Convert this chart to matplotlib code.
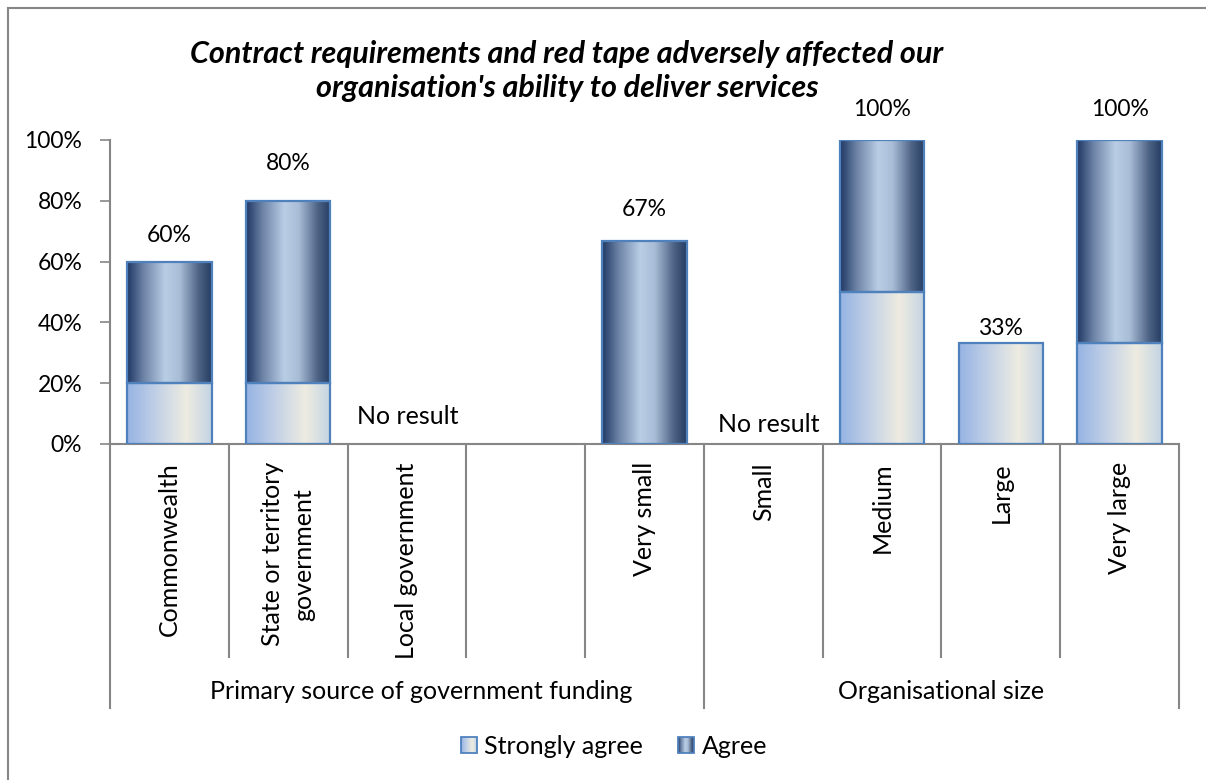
import numpy as np
import matplotlib
matplotlib.use('Agg')
import matplotlib.pyplot as plt
from matplotlib.colors import LinearSegmentedColormap
from matplotlib.patches import Rectangle
from matplotlib.lines import Line2D
from matplotlib.legend_handler import HandlerBase
from matplotlib.image import BboxImage
from matplotlib.transforms import Bbox, TransformedBbox

plt.rcParams['font.family'] = ['Lato', 'DejaVu Sans']

# ---------------- data ----------------
categories = ['Commonwealth', 'State or territory\ngovernment', 'Local government', '',
              'Very small', 'Small', 'Medium', 'Large', 'Very large']
group_names = ['Primary source of government funding', 'Organisational size']
group_spans = [(0, 4), (5, 8)]
series_names = ['Strongly agree', 'Agree']
strongly_agree = [20, 20, 0, 0, 0, 0, 50, 33.3, 33.3]
agree = [40, 60, 0, 0, 66.7, 0, 50, 0, 66.7]
total_labels = ['60%', '80%', 'No result', '', '67%', 'No result', '100%', '33%', '100%']
yticks = [0, 20, 40, 60, 80, 100]
ytick_labels = ['0%', '20%', '40%', '60%', '80%', '100%']
title = "Contract requirements and red tape adversely affected our\norganisation's ability to deliver services"

# ---------------- style ----------------
label_offsets_px = [26, 37, 28, 0, 32, 20, 30, 14, 30]
label_dx_px = [0, 0, 1, 0, 0, 5, 0, 0, 0]
group_dx = [0.12, 0.0]
edge_col = '#4f81bd'
grey = '#868686'
fs_text = 18
fs_num = 16.5
cm_sa = LinearSegmentedColormap.from_list('sa', [(0, '#95b3e3'), (0.35, '#c3d1e6'),
                                                 (0.7, '#eeece1'), (1.0, '#c3d3e3')])
cm_ag = LinearSegmentedColormap.from_list('ag', [(0, '#1f3864'), (0.2, '#6f85a8'),
                                                 (0.45, '#b9cde5'), (0.62, '#a9bdd7'),
                                                 (0.85, '#4d6284'), (1.0, '#253d62')])
grad = np.linspace(0, 1, 256).reshape(1, -1)

W, H = 1206, 780
fig = plt.figure(figsize=(W / 100, H / 100), dpi=100)
ax = fig.add_axes([110 / W, 1 - 444 / H, (1179 - 110) / W, (444 - 140) / H])

x = np.arange(len(categories))
bw = 0.71
b1 = ax.bar(x, strongly_agree, width=bw, facecolor='none', edgecolor=edge_col, lw=1.6, zorder=3)
b2 = ax.bar(x, agree, bottom=strongly_agree, width=bw, facecolor='none', edgecolor=edge_col,
            lw=1.6, zorder=3)
for bars, cm in ((b1, cm_sa), (b2, cm_ag)):
    for p in bars:
        if p.get_height() > 0:
            x0, y0 = p.get_x(), p.get_y()
            ax.imshow(grad, extent=[x0, x0 + p.get_width(), y0, y0 + p.get_height()],
                      aspect='auto', cmap=cm, interpolation='bicubic', zorder=2)
        else:
            p.set_visible(False)

ax.set_xlim(-0.5, len(categories) - 0.5)
ax.set_ylim(0, 100)
ax.set_yticks(yticks)
ax.set_yticklabels(ytick_labels, fontsize=fs_num)
ax.set_xticks([])
ax.tick_params(axis='y', direction='out', length=7, width=1.2, color=grey, pad=13)
for s in ('top', 'right'):
    ax.spines[s].set_visible(False)
for s in ('left', 'bottom'):
    ax.spines[s].set_color(grey)
    ax.spines[s].set_linewidth(1.5)

# value labels
totals = [a + b for a, b in zip(strongly_agree, agree)]
for i, (t, lab) in enumerate(zip(totals, total_labels)):
    if lab:
        fs = fs_num if '%' in lab else fs_text
        ax.annotate(lab, (i, t), xytext=(label_dx_px[i] * 0.72, label_offsets_px[i] * 0.72),
                    textcoords='offset points', ha='center', va='center', fontsize=fs)

# category axis dividers and labels
tr = ax.get_xaxis_transform()
group_edges = {-0.5} | {s[0] - 0.5 for s in group_spans} | {s[1] + 0.5 for s in group_spans}
for k in range(len(categories) + 1):
    xe = k - 0.5
    y_end = -0.868 if xe in group_edges else -0.70
    ax.add_line(Line2D([xe, xe], [0, y_end], transform=tr, color=grey, lw=1.5, clip_on=False))
for i, c in enumerate(categories):
    if c:
        ax.text(i, -0.06, c, transform=tr, rotation=90, ha='center', va='top',
                multialignment='center', fontsize=fs_text, linespacing=1.4)
for name, (a, b), dx in zip(group_names, group_spans, group_dx):
    ax.text((a + b) / 2 + dx, -0.815, name, transform=tr, ha='center', va='center',
            fontsize=fs_text)

# title
fig.text(567 / W, 1 - 71 / H, title, ha='center', va='center', fontsize=22,
         fontweight='bold', fontstyle='italic', linespacing=1.22)

# chart border (cropped)
fig.add_artist(Line2D([8 / W, 1], [1 - 8 / H, 1 - 8 / H], transform=fig.transFigure,
                      color=grey, lw=1.5))
fig.add_artist(Line2D([8 / W, 8 / W], [0, 1 - 8 / H], transform=fig.transFigure,
                      color=grey, lw=1.5))


# legend with gradient swatches
class GradHandler(HandlerBase):
    def __init__(self, cmap):
        super().__init__()
        self.cmap = cmap

    def create_artists(self, legend, orig_handle, xdescent, ydescent, width, height,
                       fontsize, trans):
        s = 11.5
        x0 = -xdescent + width - s
        y0 = -ydescent + (height - s) / 2
        bb = TransformedBbox(Bbox.from_bounds(x0, y0, s, s), trans)
        im = BboxImage(bb, cmap=self.cmap, interpolation='bicubic')
        im.set_data(grad)
        r = Rectangle((x0, y0), s, s, facecolor='none', edgecolor=edge_col, lw=1.3,
                      transform=trans)
        return [im, r]


h1 = Rectangle((0, 0), 1, 1)
h2 = Rectangle((0, 0), 1, 1)
leg = fig.legend([h1, h2], series_names, loc='center', bbox_to_anchor=(614 / W, 1 - 746 / H),
                 ncol=2, frameon=False, fontsize=fs_text, handlelength=0.65, handletextpad=0.3,
                 columnspacing=1.4,
                 handler_map={h1: GradHandler(cm_sa), h2: GradHandler(cm_ag)})

fig.savefig('out.png', dpi=100)
